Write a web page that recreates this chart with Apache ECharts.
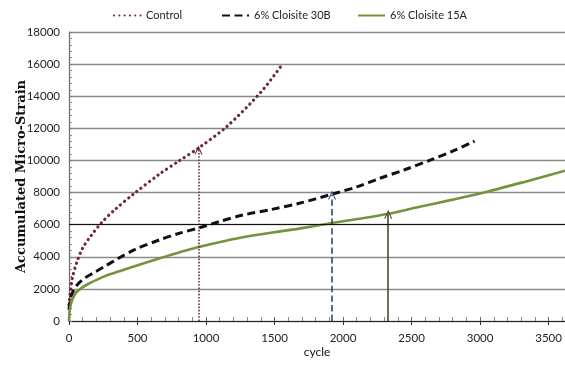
<!DOCTYPE html>
<html>
<head>
<meta charset="utf-8">
<script src="https://cdn.jsdelivr.net/npm/echarts@6/dist/echarts.min.js"></script>
<style>
  html, body { margin: 0; padding: 0; background: #fff; }
  #chart { width: 565px; height: 376px; }
</style>
</head>
<body>
<div id="chart"></div>
<script>
// Accumulated micro-strain vs. load cycle for three asphalt mixtures
const seriesNames = ['Control', '6% Cloisite 30B', '6% Cloisite 15A'];

const controlCycle  = [0, 8, 25, 55, 100, 160, 240, 330, 470, 660, 800, 950, 1150, 1400, 1550];
const controlStrain = [1000, 1650, 2700, 3600, 4550, 5300, 6150, 6900, 7900, 9150, 9950, 10800, 12100, 14250, 15900];

const c30bCycle  = [0, 8, 25, 60, 120, 190, 270, 350, 480, 660, 800, 950, 1100, 1270, 1480, 1680, 1920, 2100, 2270, 2450, 2640, 2800, 2960];
const c30bStrain = [700, 1250, 1750, 2250, 2700, 3050, 3450, 3850, 4450, 5050, 5450, 5800, 6200, 6600, 6950, 7330, 7900, 8350, 8890, 9420, 10030, 10580, 11200];

const c15aCycle  = [0, 3, 10, 25, 50, 90, 150, 250, 385, 530, 680, 820, 955, 1130, 1320, 1500, 1690, 1920, 2130, 2330, 2560, 2800, 3050, 3330, 3620];
const c15aStrain = [0, 450, 900, 1350, 1750, 2050, 2350, 2750, 3150, 3550, 3950, 4320, 4630, 4970, 5290, 5530, 5770, 6100, 6380, 6680, 7120, 7560, 8050, 8680, 9360];

// Flow-number markers: cycle where each arrow stands and the strain it points to
const flowCycle  = [945, 1920, 2330];
const flowStrain = [10650, 7850, 6650];

const xTicks = [0, 500, 1000, 1500, 2000, 2500, 3000, 3500];
const yTicks = [0, 2000, 4000, 6000, 8000, 10000, 12000, 14000, 16000, 18000];

const pair = (xs, ys) => xs.map((x, i) => [x, ys[i]]);

const colors = ['#6e2836', '#111111', '#76923c'];
const arrowColors = ['#6e2836', '#2e4a78', '#4b4b2a'];
const arrowTypes = ['dotted', 'dashed', 'solid'];
const chevron = 'path://M0,10 L5,0 L10,10 L8.6,10 L5,2.8 L1.4,10 Z';

function flowMark(i) {
  return {
    silent: true,
    symbol: ['none', chevron],
    symbolSize: [8, 9],
    label: { show: false },
    lineStyle: { color: arrowColors[i], type: arrowTypes[i], width: 1.6 },
    data: [[{ coord: [flowCycle[i], 0] }, { coord: [flowCycle[i], flowStrain[i]] }]]
  };
}

const uiFont = "'Liberation Sans Narrow', Lato, sans-serif";
const legendFont = { fontFamily: uiFont, fontSize: 11, color: '#222' };
const legendLefts = [108, 216, 352];
const plain = v => String(v);

const chart = echarts.init(document.getElementById('chart'), null, { renderer: 'canvas' });
chart.setOption({
  animation: false,
  backgroundColor: '#fff',
  legend: seriesNames.map((n, i) => ({
    data: [n],
    left: legendLefts[i],
    top: 5,
    itemWidth: 27,
    itemHeight: 10,
    itemGap: 4,
    itemStyle: { opacity: 0 },
    textStyle: legendFont,
    selectedMode: false
  })),
  grid: { left: 69, right: 0, top: 32, bottom: 55, containLabel: false, outerBoundsMode: 'none' },
  xAxis: [{
    type: 'value',
    min: xTicks[0],
    max: 3620,
    interval: 500,
    name: 'cycle',
    nameLocation: 'middle',
    nameGap: 25,
    nameMoveOverlap: false,
    nameTextStyle: { fontFamily: uiFont, fontSize: 12, color: '#111' },
    axisLine: { show: true, lineStyle: { color: '#222', width: 1.2 } },
    axisTick: { show: true, inside: true, length: 4, lineStyle: { color: '#666' } },
    minorTick: { show: true, splitNumber: 5, length: 4, lineStyle: { color: '#888' } },
    axisLabel: { showMaxLabel: false, margin: 11, formatter: plain, fontFamily: uiFont, fontSize: 11.5, color: '#222' },
    splitLine: { show: false }
  }, {
    type: 'value',
    min: xTicks[0],
    max: 3620,
    interval: 500,
    position: 'bottom',
    axisLine: { show: false },
    axisTick: { show: true, inside: false, length: 4, lineStyle: { color: '#333' } },
    axisLabel: { show: false },
    splitLine: { show: false }
  }],
  yAxis: {
    type: 'value',
    min: yTicks[0],
    max: yTicks[yTicks.length - 1],
    interval: 2000,
    name: 'Accumulated Micro-Strain',
    nameLocation: 'middle',
    nameGap: 41,
    nameMoveOverlap: false,
    nameTextStyle: { fontFamily: 'DejaVu Serif', fontWeight: 'bold', fontSize: 13, color: '#111' },
    axisLine: { show: true, lineStyle: { color: '#666', width: 1.2 } },
    axisTick: { show: true, inside: true, length: 3, lineStyle: { color: '#777' } },
    minorTick: { show: true, splitNumber: 5, length: 3, lineStyle: { color: '#888' } },
    axisLabel: { margin: 9, formatter: plain, fontFamily: uiFont, fontSize: 11.5, color: '#222' },
    splitLine: { show: true, lineStyle: { color: '#8a8a8a', width: 1.3 } }
  },
  series: [
    {
      name: seriesNames[0],
      type: 'line',
      data: pair(controlCycle, controlStrain),
      smooth: 0.3,
      showSymbol: false,
      symbol: 'none',
      itemStyle: { color: colors[0] },
      lineStyle: { color: colors[0], width: 3.2, type: [0.1, 5.2], cap: 'round' },
      markLine: flowMark(0),
      z: 3
    },
    {
      name: seriesNames[1],
      type: 'line',
      data: pair(c30bCycle, c30bStrain),
      smooth: 0.3,
      showSymbol: false,
      symbol: 'none',
      itemStyle: { color: colors[1] },
      lineStyle: { color: colors[1], width: 3, type: [8, 4.5] },
      markLine: flowMark(1),
      z: 3
    },
    {
      name: seriesNames[2],
      type: 'line',
      data: pair(c15aCycle, c15aStrain),
      smooth: 0.3,
      showSymbol: false,
      symbol: 'none',
      itemStyle: { color: colors[2] },
      lineStyle: { color: colors[2], width: 2.6 },
      markLine: flowMark(2),
      z: 3
    },
    {
      // darker rule along the 6000 gridline
      type: 'line',
      data: [],
      silent: true,
      markLine: {
        silent: true,
        symbol: 'none',
        label: { show: false },
        lineStyle: { color: '#111', type: 'solid', width: 1.2 },
        data: [{ yAxis: yTicks[3] }]
      },
      z: 1
    }
  ]
});
</script>
</body>
</html>
